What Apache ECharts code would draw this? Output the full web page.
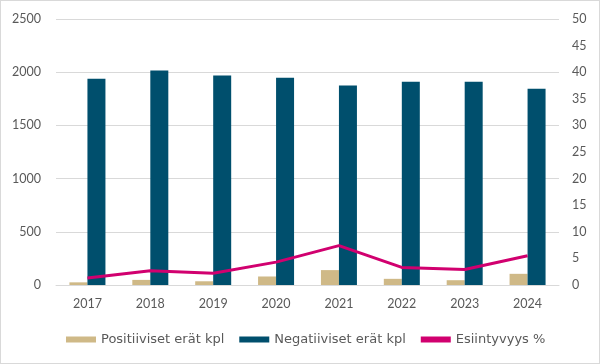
<!DOCTYPE html>
<html><head><meta charset="utf-8">
<script src="https://cdn.jsdelivr.net/npm/echarts@6/dist/echarts.min.js"></script>
<style>html,body{margin:0;padding:0;background:#fff}#c{width:598px;height:362px;border:1px solid #d9d9d9}</style>
</head><body><div id="c"></div>
<script>
const years = ['2017','2018','2019','2020','2021','2022','2023','2024'];
const positive = [25, 48, 35, 80, 140, 58, 45, 105];
const negative = [1938, 2015, 1968, 1948, 1875, 1910, 1910, 1845];
const frequency = [1.3, 2.7, 2.2, 4.3, 7.4, 3.3, 2.9, 5.5];
const leftTicks = [0, 500, 1000, 1500, 2000, 2500];
const rightTicks = [0, 5, 10, 15, 20, 25, 30, 35, 40, 45, 50];

const chart = echarts.init(document.getElementById('c'));
const font = 'Lato, "Open Sans", sans-serif';
chart.setOption({
  animation: false,
  textStyle: {fontFamily: font},
  grid: {left: 55, right: 40, top: 18, bottom: 78},
  legend: {
    top: 327, left: 60, itemWidth: 30, itemHeight: 6, itemGap: 15,
    textStyle: {color: '#595959', fontSize: 13, fontFamily: '"DejaVu Sans", sans-serif'},
    data: [
      {name: 'Positiiviset erät kpl', icon: 'rect'},
      {name: 'Negatiiviset erät kpl', icon: 'rect'},
      {name: 'Esiintyvyys %', icon: 'rect'}
    ]
  },
  xAxis: {
    type: 'category', data: years,
    axisLine: {lineStyle: {color: '#d9d9d9', width: 1}},
    axisTick: {show: false},
    axisLabel: {color: '#595959', fontSize: 12.5, margin: 12}
  },
  yAxis: [
    {type: 'value', min: 0, max: 2500, interval: 500,
     axisLine: {show: false}, axisTick: {show: false},
     splitLine: {lineStyle: {color: '#d9d9d9'}},
     axisLabel: {color: '#595959', fontSize: 12.5, margin: 15, formatter: v => String(v)}},
    {type: 'value', min: 0, max: 50, interval: 5,
     axisLine: {show: false}, axisTick: {show: false},
     splitLine: {show: false},
     axisLabel: {color: '#595959', fontSize: 12.5, margin: 13, formatter: v => String(v)}}
  ],
  series: [
    {name: 'Positiiviset erät kpl', type: 'bar', data: positive, barWidth: 18, barGap: '0%',
     itemStyle: {color: '#CFB987'}},
    {name: 'Negatiiviset erät kpl', type: 'bar', data: negative, barWidth: 18,
     itemStyle: {color: '#004F6D'}},
    {name: 'Esiintyvyys %', type: 'line', yAxisIndex: 1, data: frequency,
     symbol: 'none', lineStyle: {color: '#D1006F', width: 3}, itemStyle: {color: '#D1006F'}}
  ]
});
</script></body></html>
